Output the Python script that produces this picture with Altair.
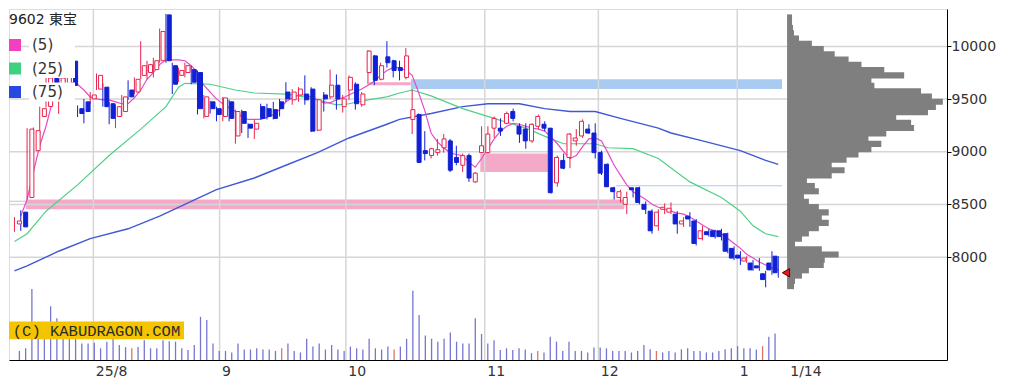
import altair as alt
import pandas as pd

# ---------------- data ----------------
# daily candles, trading-day index 0..121 (mid-July 2025 .. 14 Jan 2026)
opens = [8315, 8427, 8566, 9010, 9335, 9430, 9740, 9500, 9650, 9860,
         9409, 9474, 9502, 9595, 9613, 9456, 9335, 9382, 9586, 9567,
         9725, 9752, 9780, 9864, 10299, 9817, 9725, 9752, 9780, 9752,
         9335, 9474, 9409, 9335, 9474, 9150, 9382, 9261, 9215, 9428,
         9409, 9400, 9474, 9567, 9493, 9539, 9548, 9595, 9205, 9539,
         9521, 9632, 9428, 9586, 9641, 9446, 9752, 9910, 9688, 9901,
         9864, 9799, 9706, 9307, 9354, 9011, 8964, 8992, 9038, 9103,
         8946, 8872, 8964, 8714, 8992, 8992, 9224, 9224, 9270, 9382,
         9242, 9215, 9103, 9242, 9261, 9224, 8705, 8918, 8946, 9103,
         9150, 9215, 9178, 8992, 8881, 8658, 8566, 8501, 8658, 8658,
         8501, 8436, 8297, 8454, 8427, 8408, 8315, 8389, 8343, 8176,
         8241, 8250, 8250, 8222, 8083, 8019, 7963, 7944, 7917, 7842,
         7944, 8009]
highs = [8380, 8445, 9224, 9230, 9428, 9864, 9780, 9864, 9864, 9870,
         9440, 9502, 9567, 9743, 9650, 9474, 9446, 9539, 9678, 9706,
         10049, 9864, 9892, 10170, 10309, 9845, 9799, 9845, 9817, 9771,
         9539, 9484, 9428, 9521, 9493, 9400, 9400, 9270, 9307, 9456,
         9456, 9474, 9502, 9660, 9595, 9613, 9725, 9613, 9502, 9567,
         9780, 9734, 9539, 9725, 9660, 9567, 9966, 9919, 9845, 10049,
         9873, 9864, 9984, 9595, 9363, 9196, 9038, 9122, 9168, 9122,
         9057, 8983, 8983, 8807, 9242, 9242, 9335, 9317, 9382, 9409,
         9270, 9270, 9270, 9354, 9289, 9224, 8964, 8983, 9178, 9215,
         9307, 9261, 9270, 9011, 8890, 8668, 8640, 8621, 8658, 8668,
         8529, 8454, 8454, 8510, 8519, 8436, 8380, 8427, 8362, 8297,
         8269, 8260, 8269, 8232, 8102, 8056, 8009, 7972, 7991, 7870,
         8056, 8009]
lows = [8241, 8250, 8547, 8990, 9168, 9420, 9560, 9360, 9600, 9600,
        9330, 9270, 9456, 9586, 9428, 9261, 9224, 9335, 9493, 9548,
        9688, 9688, 9706, 9845, 9845, 9548, 9660, 9706, 9641, 9354,
        9317, 9363, 9289, 9289, 9289, 9076, 9178, 9131, 9122, 9307,
        9307, 9307, 9335, 9474, 9446, 9474, 9446, 9187, 9196, 9382,
        9502, 9400, 9372, 9493, 9400, 9428, 9641, 9632, 9678, 9799,
        9706, 9678, 9688, 9168, 8899, 8918, 8936, 8964, 8992, 8807,
        8872, 8807, 8714, 8705, 8992, 8983, 9131, 9150, 9261, 9289,
        9085, 9029, 9085, 9215, 9196, 8603, 8668, 8834, 8844, 9057,
        9131, 9168, 8936, 8779, 8668, 8547, 8519, 8408, 8566, 8501,
        8408, 8222, 8250, 8408, 8408, 8222, 8287, 8287, 8111, 8158,
        8195, 8176, 8158, 8037, 7972, 7926, 7944, 7870, 7870, 7713,
        7833, 7805]
closes = [8343, 8287, 9215, 9200, 9409, 9700, 9620, 9700, 9720, 9630,
          9363, 9382, 9539, 9725, 9428, 9317, 9428, 9521, 9521, 9688,
          9817, 9827, 9864, 10142, 9864, 9641, 9771, 9817, 9660, 9409,
          9521, 9409, 9354, 9511, 9317, 9382, 9270, 9224, 9270, 9317,
          9335, 9317, 9409, 9502, 9567, 9595, 9493, 9196, 9493, 9502,
          9632, 9502, 9502, 9706, 9456, 9548, 9956, 9678, 9817, 9845,
          9771, 9771, 9910, 9400, 8899, 8983, 9029, 9020, 9122, 8825,
          8899, 8964, 8751, 8797, 9057, 9168, 9317, 9196, 9363, 9317,
          9168, 9103, 9261, 9335, 9224, 8612, 8946, 8844, 9168, 9131,
          9289, 9178, 8992, 8797, 8668, 8621, 8621, 8566, 8640, 8519,
          8454, 8250, 8427, 8473, 8464, 8315, 8343, 8362, 8130, 8250,
          8213, 8195, 8195, 8056, 7991, 7991, 7991, 7879, 7898, 7787,
          7879, 7852]
# volume, thousand shares
volumes = [370, 480, 2910, 1120, 1200, 2200, 1710, 1400, 1200, 1200,
           680, 680, 710, 480, 750, 870, 610, 530, 480, 530,
           810, 480, 480, 810, 770, 750, 480, 410, 610, 1770,
           1640, 680, 370, 370, 310, 680, 430, 430, 480, 430,
           430, 370, 480, 680, 370, 310, 870, 550, 680, 430,
           610, 430, 370, 550, 480, 430, 870, 480, 430, 550,
           430, 550, 870, 2840, 1840, 1000, 870, 750, 870, 1130,
           750, 680, 680, 1710, 1070, 680, 810, 410, 480, 410,
           480, 430, 280, 370, 310, 950, 750, 370, 750, 370,
           370, 310, 510, 510, 480, 370, 370, 370, 310, 370,
           610, 440, 370, 310, 370, 310, 440, 480, 370, 370,
           310, 310, 370, 440, 480, 570, 480, 480, 430, 570,
           950, 1080]
volume_red_days = [18, 42, 60, 83, 102, 119]

# moving averages
ma5_days = list(range(1, 122))
ma5 = [8389, 8547, 8807, 9057, 9242, 9474, 9567, 9632, 9660, 9641,
       9586, 9521, 9502, 9493, 9493, 9474, 9456, 9456, 9511, 9586,
       9688, 9752, 9827, 9873, 9873, 9873, 9864, 9817, 9752, 9632,
       9567, 9502, 9456, 9419, 9382, 9335, 9307, 9307, 9307, 9326,
       9354, 9400, 9474, 9511, 9539, 9539, 9521, 9493, 9465, 9465,
       9493, 9511, 9539, 9567, 9595, 9632, 9669, 9725, 9771, 9799,
       9799, 9771, 9725, 9567, 9391, 9178, 9094, 9038, 8992, 8974,
       8964, 8899, 8853, 8936, 9029, 9122, 9196, 9242, 9270, 9261,
       9242, 9224, 9215, 9196, 9140, 9076, 9001, 8936, 8964, 9048,
       9122, 9131, 9103, 8992, 8872, 8779, 8686, 8621, 8584, 8547,
       8501, 8473, 8454, 8436, 8417, 8408, 8380, 8343, 8306, 8269,
       8250, 8222, 8176, 8130, 8083, 8028, 7991, 7954, 7926, 7898,
       7879]
ma25_days = [0, 2, 5, 10, 15, 20, 24, 26, 27, 31, 35, 38, 43, 45, 48, 51, 53,
             56, 59, 61, 63, 66, 71, 76, 81, 85, 87, 92, 94, 98, 102, 107,
             112, 115, 117, 119, 121]
ma25 = [8148, 8222, 8436, 8686, 8964, 9215, 9428, 9613, 9650, 9641, 9586,
        9558, 9548, 9530, 9493, 9446, 9456, 9493, 9521, 9558, 9586, 9530,
        9409, 9317, 9224, 9122, 9076, 9076, 9038, 9029, 8936, 8714, 8566,
        8436, 8297, 8222, 8195]
ma75_days = [0, 2, 7, 12, 18, 23, 28, 32, 38, 43, 48, 53, 59, 61, 66, 71, 75,
             80, 84, 88, 92, 96, 102, 104, 109, 115, 119, 121]
ma75 = [7870, 7917, 8056, 8176, 8269, 8389, 8529, 8640, 8751, 8872, 8992,
        9131, 9261, 9307, 9363, 9428, 9456, 9456, 9409, 9382, 9382, 9317,
        9224, 9178, 9103, 9011, 8918, 8881]

# price zones (gaps / support bands): day span and price span
zone_start = [1.8, 73.8, 62.8, 56.2, 95.3, -0.86]
zone_end = [96.6, 84.5, 121.6, 62.8, 121.6, 1.8]
zone_low = [8455, 8807, 9595, 9632, 8673, 8525]
zone_high = [8547, 8983, 9688, 9660, 8682, 8534]
zone_kind = ["pink", "pink", "blue", "pink", "blue", "blue"]

# volume-by-price profile (50-yen bins)
profile_low = list(range(7700, 10300, 50))
profile_vol = [7, 8, 15, 22, 37, 38, 52, 35, 8, 15,
               22, 32, 42, 35, 42, 32, 22, 17, 32, 28,
               20, 45, 58, 45, 60, 72, 85, 95, 82, 100,
               128, 125, 110, 142, 150, 157, 146, 135, 88, 85,
               118, 98, 75, 62, 48, 37, 25, 12, 7, 6,
               5, 5]

month_lines = [12.5, 32.5, 52.5, 74.5, 92.5, 114.5]
tick_pos = month_lines + [122.5]
tick_labels = ["25/8", "9", "10", "11", "12", "1", "1/14"]
price_ticks = [8000, 8500, 9000, 9500, 10000]

title_text = "9602 東宝"
ma_labels = ["(5)", "(25)", "(75)"]
ma_colors = ["#f040c0", "#40d080", "#2848e0"]
ma_line_colors = ["#e64cc8", "#4fd086", "#4158d6"]
watermark = "(C) KABUDRAGON.COM"

# ---------------- frames ----------------
n = len(opens)
df = pd.DataFrame({"i": list(range(n)), "o": opens, "h": highs, "l": lows,
                   "c": closes, "v": volumes})
df["top"] = df[["o", "c"]].max(axis=1)
df["bot"] = df[["o", "c"]].min(axis=1)
df["up"] = [c >= o for o, c in zip(opens, closes)]
df["vk"] = ["r" if k in volume_red_days else "n" for k in range(n)]

zones = pd.DataFrame({"s": zone_start, "e": zone_end, "lo": zone_low,
                      "hi": zone_high, "k": zone_kind})
prof = pd.DataFrame({"lo": profile_low, "pv": profile_vol})
ma_frames = [
    pd.DataFrame({"d": ma5_days, "p": ma5}),
    pd.DataFrame({"d": ma25_days, "p": ma25}),
    pd.DataFrame({"d": ma75_days, "p": ma75}),
]
grid_v = pd.DataFrame({"g": month_lines})
grid_h = pd.DataFrame({"p": price_ticks})
one = pd.DataFrame({"a": [0]})

# ---------------- scales ----------------
W, H = 938, 351
XS = alt.Scale(domain=[-0.864, 147.73], nice=False, zero=False)
PS = alt.Scale(domain=[7023.6, 10355.1], nice=False, zero=False)
VS = alt.Scale(domain=[0, 14372], nice=False, zero=True)
PRS = alt.Scale(domain=[-784.3, 161.2], nice=False, zero=False)
FONT = "DejaVu Sans, Noto Sans CJK JP"


def X(f):
    return alt.X(f, type="quantitative", scale=XS, axis=None)


def P(f):
    return alt.Y(f, type="quantitative", scale=PS, axis=None)


layers = []

# zones
layers.append(alt.Chart(zones).mark_rect().encode(
    x=X("s"), x2="e", y=P("lo"), y2="hi",
    color=alt.Color("k:N", scale=alt.Scale(domain=["pink", "blue"],
                                           range=["#f5a9c9", "#a9cbf2"]),
                    legend=None)))

# grid lines
layers.append(alt.Chart(grid_v).mark_rule(color="#d6d6d6", strokeWidth=1.5)
              .encode(x=X("g")))
layers.append(alt.Chart(grid_h).mark_rule(color="#d6d6d6", strokeWidth=1.5)
              .encode(y=P("p")))

# volume
layers.append(alt.Chart(df).mark_bar(size=1.3, orient="vertical").encode(
    x=X("i"),
    y=alt.Y("v:Q", scale=VS, axis=None),
    color=alt.Color("vk:N", scale=alt.Scale(domain=["n", "r"],
                                            range=["#7676d2", "#e07464"]),
                    legend=None)))

# moving averages (75 under 25 under 5)
for fr, col, w in zip(ma_frames[::-1], ma_line_colors[::-1], [1.4, 1.2, 1.2]):
    layers.append(alt.Chart(fr).mark_line(color=col, strokeWidth=w)
                  .encode(x=X("d"), y=P("p")))

# wicks (also carry the axes)
layers.append(alt.Chart(df).mark_rule(strokeWidth=1).encode(
    x=alt.X("i:Q", scale=XS, axis=alt.Axis(
        values=tick_pos,
        labelExpr="%s[indexof(%s, datum.value)]" % (
            "[" + ",".join("'%s'" % t for t in tick_labels) + "]",
            "[" + ",".join(str(t) for t in tick_pos) + "]"),
        ticks=False, grid=False, domain=True, domainColor="#000",
        domainWidth=1, labelFont=FONT, labelFontSize=14, labelColor="#333",
        labelAlign="left", labelOffset=2, labelPadding=4, labelFlush=False,
        labelOverlap=False, title=None)),
    y=alt.Y("l:Q", scale=PS, axis=alt.Axis(
        orient="right", values=price_ticks, format="d", grid=False,
        ticks=True, tickSize=4, tickColor="#000", domainColor="#000",
        domainWidth=1, labelFont=FONT, labelFontSize=14, labelColor="#333",
        labelPadding=0, labelFlush=False, labelOverlap=False, title=None)),
    y2="h",
    color=alt.Color("up:N", scale=alt.Scale(domain=[True, False],
                                            range=["#e8234c", "#1020d4"]),
                    legend=None)))

# bodies
layers.append(alt.Chart(df).transform_filter("datum.c < datum.o")
              .mark_bar(size=4, orient="vertical", fill="#1020d4",
                        stroke="#1020d4", strokeWidth=1)
              .encode(x=X("i"), y=P("bot"), y2="top"))
layers.append(alt.Chart(df).transform_filter("datum.c >= datum.o")
              .mark_bar(size=4, orient="vertical", fill="#ffffff",
                        stroke="#e8234c", strokeWidth=1)
              .encode(x=X("i"), y=P("bot"), y2="top"))

# volume profile (bins drawn slightly overlapping so no seams show)
layers.append(alt.Chart(prof)
              .transform_calculate(z="0", y0="datum.lo - 4",
                                   y1="datum.lo + 54")
              .mark_rect(color="#7f7f7f").encode(
                  x=alt.X("z:Q", scale=PRS, axis=None), x2="pv:Q",
                  y=P("y0"), y2="y1:Q"))

# last price marker
layers.append(alt.Chart(pd.DataFrame({"p": [closes[-1]]}))
              .mark_point(shape="triangle-left", filled=True, size=70,
                          fill="#e81818", stroke="#5a0000", strokeWidth=1,
                          opacity=1)
              .encode(x=alt.value(777), y=P("p")))

# watermark
layers.append(alt.Chart(one).mark_rect(color="#f5c400").encode(
    x=alt.value(0), x2=alt.value(175), y=alt.value(312.6), y2=alt.value(330.2)))
layers.append(alt.Chart(one).mark_text(
    text=watermark, font="Liberation Mono", fontSize=15.5, color="#2a2a2a",
    align="center", baseline="middle").encode(
    x=alt.value(87.5), y=alt.value(321.6)))

# legend
layers.append(alt.Chart(one).mark_text(
    text=title_text, font=FONT, fontSize=14, color="#222", align="left",
    baseline="middle").encode(x=alt.value(0), y=alt.value(11)))
for k, (lab, col) in enumerate(zip(ma_labels, ma_colors)):
    cy = 36 + 23.5 * k
    layers.append(alt.Chart(one).mark_rect(color="white").encode(
        x=alt.value(20), x2=alt.value(66), y=alt.value(cy - 9.5),
        y2=alt.value(cy + 9.5)))
    layers.append(alt.Chart(one).mark_rect(color=col).encode(
        x=alt.value(0), x2=alt.value(12), y=alt.value(cy - 6),
        y2=alt.value(cy + 6)))
    layers.append(alt.Chart(one).mark_text(
        text=lab, font=FONT, fontSize=15, color="#333", align="left",
        baseline="middle").encode(x=alt.value(23), y=alt.value(cy)))

chart = (alt.layer(*layers)
         .resolve_scale(x="independent", y="independent",
                        color="independent")
         .properties(width=W, height=H, padding=0)
         .configure_view(stroke=None)
         .configure(font=FONT, background="white"))

chart.save("out.html", embed_options={"renderer": "svg", "actions": False})
